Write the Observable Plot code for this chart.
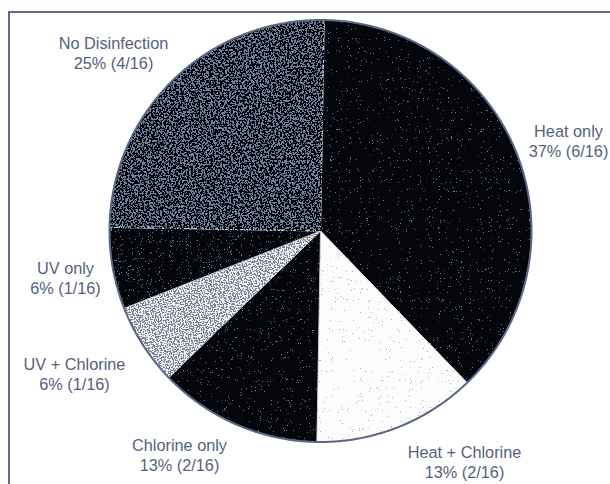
<!DOCTYPE html>
<html><head><meta charset="utf-8">
<script src="https://cdn.jsdelivr.net/npm/d3@7"></script>
<script src="https://cdn.jsdelivr.net/npm/@observablehq/plot@0.6"></script>
<style>
html,body{margin:0;padding:0;background:#fff;}
#wrap{position:relative;width:610px;height:484px;overflow:hidden;}
#chart{position:absolute;left:0;top:0;}
#frame{position:absolute;left:8px;top:11px;right:-10px;bottom:-10px;border-left:2px solid #5e6b8a;border-top:2px solid #5e6b8a;pointer-events:none;}
</style></head><body>
<div id="wrap"><div id="chart"></div><div id="frame"></div></div>
<script>
// ---- data ----
const categories = ["Heat only", "Heat + Chlorine", "Chlorine only", "UV + Chlorine", "UV only", "No Disinfection"];
const counts = [6, 2, 2, 1, 1, 4];
const percentLabels = ["37%", "13%", "13%", "6%", "6%", "25%"];
const total = 16;

// ---- style / layout ----
const W = 610, H = 484;
const cx = 320, cy = 230.5, R = 211;          // pie centre & radius (px)
const rot = 1 * Math.PI / 180;                // scan tilt
const sliceFill = ["#05050c", "#fcfcfd", "#05050c", "#eeeff2", "#05050c", "#7080a2"];
const sliceTexture = [
  {color: "#6f7c9a", t: 0.27, f: 0.9},
  {color: "#a4aab8", t: 0.26, f: 0.9},
  {color: "#6f7c9a", t: 0.28, f: 0.9},
  {color: "#7c8291", t: 0.50, f: 1.0},
  {color: "#6f7c9a", t: 0.31, f: 0.9},
  {color: "#000000", t: 0.53, f: 0.55}
];
// label block centres (px)
const labelAt = [[568, 140], [464, 461.5], [179, 454], [74, 373], [65, 277], [113, 52]];
const textColor = "#56617e";

// ---- geometry from data ----
const pie = d3.pie().sort(null).value(d => d)(counts);
const slices = pie.map((p) => {
  const a0 = p.startAngle + rot, a1 = p.endAngle + rot;
  const n = Math.max(2, Math.ceil((a1 - a0) / (Math.PI / 360)));
  const pts = [{x: 0, y: 0}];
  for (let k = 0; k <= n; k++) {
    const a = a0 + (a1 - a0) * k / n;
    pts.push({x: Math.sin(a), y: Math.cos(a)});
  }
  pts.push({x: 0, y: 0});
  return pts;
});
const outline = slices.flatMap(pts => pts.slice(1, -1));

const labels = categories.map((c, i) => ({
  x: (labelAt[i][0] - cx) / R,
  y: (cy - labelAt[i][1]) / R,
  text: `${c}\n${percentLabels[i]} (${counts[i]}/${total})`
}));

const plot = Plot.plot({
  width: W, height: H,
  margin: 0,
  x: {domain: [-cx / R, (W - cx) / R], range: [0, W], axis: null},
  y: {domain: [-(H - cy) / R, cy / R], range: [H, 0], axis: null},
  marks: [
    ...slices.map((pts, i) => Plot.line(pts, {x: "x", y: "y", fill: sliceFill[i], stroke: "#dde0e8", strokeWidth: 0.8, curve: "linear"})),
    Plot.line(outline, {x: "x", y: "y", stroke: "#5a6785", strokeWidth: 2, curve: "linear"}),
    Plot.text(labels, {x: "x", y: "y", text: "text", fontSize: 16.3, fill: textColor, lineHeight: 1.2,
      lineAnchor: "middle", textAnchor: "middle", fontFamily: "'Liberation Sans', Arial, Helvetica, sans-serif"})
  ]
});
document.getElementById("chart").appendChild(plot);

// grain textures (scanned look)
const svg = d3.select(plot);
const defs = svg.insert("defs", ":first-child");
sliceTexture.forEach((tx, i) => {
  const f = defs.append("filter").attr("id", "grain" + i)
    .attr("x", "-2%").attr("y", "-2%").attr("width", "104%").attr("height", "104%")
    .attr("color-interpolation-filters", "sRGB");
  f.append("feTurbulence").attr("type", "fractalNoise").attr("baseFrequency", tx.f)
    .attr("numOctaves", 3).attr("seed", 5 + i).attr("result", "n");
  f.append("feColorMatrix").attr("in", "n").attr("type", "matrix")
    .attr("values", `0 0 0 0 0  0 0 0 0 0  0 0 0 0 0  -30 0 0 0 ${30 * tx.t}`).attr("result", "m");
  f.append("feFlood").attr("flood-color", tx.color).attr("result", "c");
  f.append("feComposite").attr("in", "c").attr("in2", "m").attr("operator", "in").attr("result", "s");
  f.append("feComposite").attr("in", "s").attr("in2", "SourceAlpha").attr("operator", "in").attr("result", "s2");
  const mg = f.append("feMerge");
  mg.append("feMergeNode").attr("in", "SourceGraphic");
  mg.append("feMergeNode").attr("in", "s2");
});
svg.selectAll('g[aria-label="line"]').each(function(d, i) {
  if (i < sliceTexture.length) d3.select(this).attr("filter", `url(#grain${i})`);
});
</script>
</body></html>
